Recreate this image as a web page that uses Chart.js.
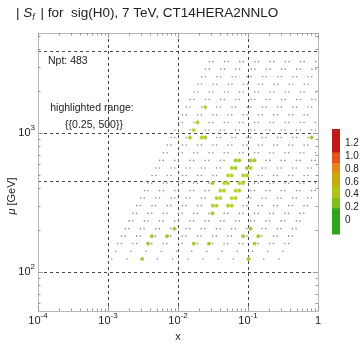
<!DOCTYPE html>
<html>
<head>
<meta charset="utf-8">
<script src="https://cdn.jsdelivr.net/npm/chart.js@4.4.1/dist/chart.umd.min.js"></script>
<style>
  html, body { margin: 0; padding: 0; background: #fff; }
</style>
</head>
<body>
<canvas id="myChart" width="360" height="344"></canvas>
<script>
// collider energy in GeV, x = mu / sqrtS * exp(+-y)
var sqrtS = 7000;

// scale rows mu [GeV] of the grid
var muRows = [124, 141, 160, 181, 205, 233, 264, 300, 340, 385, 436, 495, 560, 635,
              720, 818, 928, 1050, 1190, 1350, 1535, 1740, 1970, 2240, 2540, 2880, 3260];
// rapidity bins; the two lowest rows have one point per bin, the others two
var rapSingle = [-2.75, -2.25, -1.75, -1.25, -0.75, -0.25, 0.25, 0.75, 1.25, 1.75, 2.25, 2.75];
var rapPair = [-2.81, -2.69, -2.31, -2.19, -1.81, -1.69, -1.31, -1.19, -0.81, -0.69, -0.31, -0.19,
               0.19, 0.31, 0.69, 0.81, 1.19, 1.31, 1.69, 1.81, 2.19, 2.31, 2.69, 2.81];
var singleRows = 2;

// points with |S_f| inside the highlighted range
var hiMu  = [124, 124, 160, 160, 160, 160, 181, 181, 181, 181, 205, 205, 264,
             300, 300, 300, 300, 340, 340, 340, 340, 385, 385, 385, 385,
             436, 436, 436, 436, 436, 495, 495, 495, 495, 560, 560, 560, 560,
             635, 635, 635, 635, 928, 928, 928, 928, 1050, 1190, 1535];
var hiRap = [-1.75, 1.75, -1.81, -0.31, 0.19, 1.69, -1.81, -1.31, 1.19, 1.69, -1.19, 1.31, -0.19,
             -0.31, -0.19, 0.19, 0.31, -0.31, -0.19, 0.19, 0.31, -0.31, -0.19, 0.19, 0.31,
             -0.69, -0.31, -0.19, 0.19, 0.31, -0.31, -0.19, 0.19, 0.31, -0.31, -0.19, 0.19, 0.31,
             -0.31, -0.19, 0.19, 0.31, -2.19, -1.81, -1.69, 1.81, -2.19, -2.19, -2.19];
var hiS   = [0.32, 0.3, 0.35, 0.3, 0.3, 0.33, 0.3, 0.34, 0.3, 0.31, 0.3, 0.3, 0.3,
             0.38, 0.36, 0.36, 0.38, 0.4, 0.38, 0.38, 0.4, 0.4, 0.38, 0.38, 0.4,
             0.3, 0.4, 0.4, 0.4, 0.4, 0.38, 0.36, 0.36, 0.38, 0.36, 0.33, 0.33, 0.36,
             0.34, 0.32, 0.32, 0.34, 0.38, 0.4, 0.3, 0.27, 0.4, 0.38, 0.36];

// frame ticks and grid
var xMajor = [1e-4, 1e-3, 1e-2, 1e-1, 1];
var xLabels = [['10', '-4'], ['10', '-3'], ['10', '-2'], ['10', '-1'], ['1', '']];
var yMajor = [100, 1000];
var yLabels = [['10', '2'], ['10', '3']];
var xGrid = [1e-3, 1e-2, 1e-1];
var muGrid = [100, 450, 1000, 3900];

// colour legend
var barEdges = [-0.22, 0.19, 0.36, 0.55, 0.76, 0.9, 1.07, 1.43];
var barColors = ['#30a61c', '#7fbe1c', '#aec21a', '#caa812', '#e4871a', '#e2561c', '#c21a1c'];
var pointColors = ['#3cae2a', '#92c834', '#b2cc30', '#caa812', '#e4871a', '#e2561c', '#c21a1c'];
var barTicks = [0, 0.2, 0.4, 0.6, 0.8, 1.0, 1.2];
var barTickText = ['0', '0.2', '0.4', '0.6', '0.8', '1.0', '1.2'];

function colorFor(s) {
  for (var i = 0; i < pointColors.length; i++) {
    if (s < barEdges[i + 1]) return pointColors[i];
  }
  return pointColors[pointColors.length - 1];
}

var grayPts = [];
muRows.forEach(function (mu, i) {
  var raps = i < singleRows ? rapSingle : rapPair;
  raps.forEach(function (y) {
    var x = mu / sqrtS * Math.exp(y);
    if (x < 1) grayPts.push({x: x, y: mu});
  });
});

var hiPts = hiMu.map(function (mu, i) {
  return {x: mu / sqrtS * Math.exp(hiRap[i]), y: mu};
});
var hiCols = hiS.map(colorFor);

var FONT = '"Liberation Sans", Arial, sans-serif';

function powLabel(ctx, base, exp, cx, cy, align) {
  ctx.font = '11px ' + FONT;
  var wb = ctx.measureText(base).width;
  ctx.font = '8px ' + FONT;
  var we = exp ? ctx.measureText(exp).width : 0;
  var w = wb + we;
  var x0 = align === 'right' ? cx - w : cx - w / 2;
  ctx.textAlign = 'left';
  ctx.textBaseline = 'middle';
  ctx.font = '11px ' + FONT;
  ctx.fillText(base, x0, cy);
  if (exp) {
    ctx.font = '8px ' + FONT;
    ctx.fillText(exp, x0 + wb, cy - 5);
  }
}

var framePlugin = {
  id: 'frame',
  beforeDatasetsDraw: function (chart) {
    var ctx = chart.ctx, a = chart.chartArea;
    var xs = chart.scales.x, ys = chart.scales.y;
    ctx.save();
    // dashed grid
    ctx.strokeStyle = '#333';
    ctx.lineWidth = 0.9;
    ctx.setLineDash([3, 3]);
    xGrid.forEach(function (v) {
      var px = Math.round(xs.getPixelForValue(v)) + 0.5;
      ctx.beginPath(); ctx.moveTo(px, a.top); ctx.lineTo(px, a.bottom); ctx.stroke();
    });
    muGrid.forEach(function (v) {
      var py = Math.round(ys.getPixelForValue(v)) + 0.5;
      ctx.beginPath(); ctx.moveTo(a.left, py); ctx.lineTo(a.right, py); ctx.stroke();
    });
    ctx.setLineDash([]);
    // frame
    ctx.strokeStyle = '#b8b8b8';
    ctx.lineWidth = 1;
    ctx.strokeRect(a.left + 0.5, a.top + 0.5, a.right - a.left, a.bottom - a.top);
    // ticks, major and minor, on all four sides
    ctx.strokeStyle = '#999';
    for (var e = -4; e <= 0; e++) {
      for (var m = 1; m <= 9; m++) {
        var v = m * Math.pow(10, e);
        if (v > 1.0001) break;
        var len = m === 1 ? 5 : 2.5;
        var px = Math.round(xs.getPixelForValue(v)) + 0.5;
        ctx.beginPath();
        ctx.moveTo(px, a.bottom); ctx.lineTo(px, a.bottom - len);
        ctx.moveTo(px, a.top); ctx.lineTo(px, a.top + len);
        ctx.stroke();
      }
    }
    for (var e2 = 1; e2 <= 3; e2++) {
      for (var m2 = 1; m2 <= 9; m2++) {
        var w = m2 * Math.pow(10, e2);
        if (w < ys.min || w > ys.max) continue;
        var len2 = m2 === 1 ? 5 : 2.5;
        var py = Math.round(ys.getPixelForValue(w)) + 0.5;
        ctx.beginPath();
        ctx.moveTo(a.left, py); ctx.lineTo(a.left + len2, py);
        ctx.moveTo(a.right, py); ctx.lineTo(a.right - len2, py);
        ctx.stroke();
      }
    }
    ctx.restore();
  },
  afterDraw: function (chart) {
    var ctx = chart.ctx, a = chart.chartArea;
    var xs = chart.scales.x, ys = chart.scales.y;
    ctx.save();
    ctx.fillStyle = '#222';

    // title: | S_f | for  sig(H0), 7 TeV, CT14HERA2NNLO
    var tx = 16, ty = 13;
    ctx.textBaseline = 'middle';
    ctx.textAlign = 'left';
    ctx.font = '13.5px ' + FONT;
    ctx.fillText('| ', tx, ty); tx += ctx.measureText('| ').width;
    ctx.font = 'italic 13.5px ' + FONT;
    ctx.fillText('S', tx, ty); tx += ctx.measureText('S').width;
    ctx.font = 'italic 9px ' + FONT;
    ctx.fillText('f', tx, ty + 4); tx += ctx.measureText('f').width + 2;
    ctx.font = '13.5px ' + FONT;
    ctx.fillText(' | for  sig(H0), 7 TeV, CT14HERA2NNLO', tx, ty);

    // tick labels
    xMajor.forEach(function (v, i) {
      powLabel(ctx, xLabels[i][0], xLabels[i][1], xs.getPixelForValue(v), a.bottom + 10, 'center');
    });
    yMajor.forEach(function (v, i) {
      powLabel(ctx, yLabels[i][0], yLabels[i][1], a.left - 3, ys.getPixelForValue(v), 'right');
    });

    // axis titles
    ctx.font = '11px ' + FONT;
    ctx.textAlign = 'center';
    ctx.textBaseline = 'middle';
    ctx.fillText('x', (a.left + a.right) / 2, 337);
    ctx.save();
    ctx.translate(12, 196);
    ctx.rotate(-Math.PI / 2);
    ctx.textAlign = 'left';
    ctx.font = 'italic 11px ' + FONT;
    var wMu = ctx.measureText('\u03bc').width;
    ctx.font = '11px ' + FONT;
    var wRest = ctx.measureText(' [GeV]').width;
    var sx = -(wMu + wRest) / 2;
    ctx.font = 'italic 11px ' + FONT;
    ctx.fillText('\u03bc', sx, 0);
    ctx.font = '11px ' + FONT;
    ctx.fillText(' [GeV]', sx + wMu, 0);
    ctx.restore();

    // annotations
    ctx.font = '10.5px ' + FONT;
    ctx.textAlign = 'left';
    ctx.fillText('Npt: 483', 48, 61);
    ctx.textAlign = 'center';
    ctx.fillText('highlighted range:', 92, 108);
    ctx.fillText('{{0.25, 500}}', 94, 125);

    // colour bar
    var bx = 332, bw = 8, bTop = 129, bBot = 234;
    var lo = barEdges[0], hi = barEdges[barEdges.length - 1];
    function by(v) { return bBot - (v - lo) / (hi - lo) * (bBot - bTop); }
    for (var i = 0; i < barColors.length; i++) {
      ctx.fillStyle = barColors[i];
      var y1 = by(barEdges[i + 1]), y0 = by(barEdges[i]);
      ctx.fillRect(bx, y1, bw, y0 - y1 + 0.5);
    }
    ctx.fillStyle = '#222';
    ctx.font = '10px ' + FONT;
    ctx.textAlign = 'left';
    barTicks.forEach(function (v, i) {
      ctx.fillText(barTickText[i], bx + 13, by(v));
    });
    ctx.restore();
  }
};

var ctx = document.getElementById('myChart');
new Chart(ctx, {
  type: 'scatter',
  data: {
    datasets: [{
      label: 'highlighted',
      data: hiPts,
      backgroundColor: hiCols,
      borderColor: 'rgba(220,236,120,0.6)',
      borderWidth: 0.8,
      pointRadius: 1.9
    }, {
      label: 'points',
      data: grayPts,
      backgroundColor: '#8e8e8e',
      borderWidth: 0,
      pointRadius: 0.8
    }]
  },
  options: {
    responsive: false,
    animation: false,
    devicePixelRatio: 1,
    layout: { padding: { left: 38, right: 42, top: 33, bottom: 33 } },
    plugins: { legend: { display: false }, tooltip: { enabled: false } },
    scales: {
      x: { type: 'logarithmic', min: 1e-4, max: 1, display: false },
      y: { type: 'logarithmic', min: 52.4, max: 5240, display: false }
    }
  },
  plugins: [framePlugin]
});
</script>
</body>
</html>
